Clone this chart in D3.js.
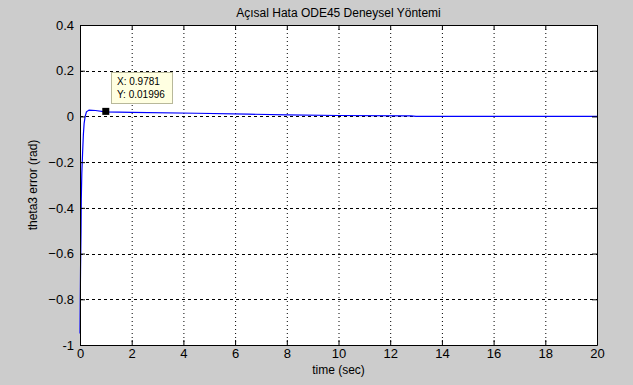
<!DOCTYPE html>
<html><head><meta charset="utf-8">
<script src="https://cdn.jsdelivr.net/npm/d3@7"></script>
<style>body{margin:0;background:#cccccc;}svg{display:block;}</style>
</head><body>
<svg id="c" width="633" height="385"></svg>
<script>
const xTicks = [0,2,4,6,8,10,12,14,16,18,20];
const yTicks = [-1,-0.8,-0.6,-0.4,-0.2,0,0.2,0.4];
const timeValues = [0,0.01,0.02,0.04,0.05,0.07,0.1,0.13,0.16,0.2,0.25,0.35,0.6,0.9781,2,4.5,6.5,8,10,12.8,13,20];
const errorValues = [-0.95,-0.8,-0.68,-0.5,-0.36,-0.25,-0.16,-0.08,-0.03,0.0,0.02,0.028,0.026,0.01996,0.018,0.014,0.01,0.007,0.004,0.002,0.0,0.0];
const tip = {x:0.9781, y:0.01996};

const svg = d3.select("#c");
const L=80, R=597, T=25, B=345;
const x = d3.scaleLinear().domain([0,20]).range([L,R]);
const y = d3.scaleLinear().domain([-1,0.4]).range([B,T]);
const font = "Arial, 'Liberation Sans', sans-serif";

svg.append("rect").attr("x",L).attr("y",T).attr("width",R-L).attr("height",B-T).attr("fill","#fff");

// grid
const g = svg.append("g");
g.selectAll(".gx").data(xTicks.slice(1,-1)).enter().append("line")
 .attr("x1",d=>x(d)+0.5).attr("x2",d=>x(d)+0.5).attr("y1",T).attr("y2",B)
 .attr("stroke","#000").attr("stroke-width",1).attr("stroke-dasharray","1,3");
g.selectAll(".gy").data(yTicks.slice(1,-1)).enter().append("line")
 .attr("y1",d=>Math.round(y(d))+0.5).attr("y2",d=>Math.round(y(d))+0.5).attr("x1",L).attr("x2",R)
 .attr("stroke","#000").attr("stroke-width",1).attr("stroke-dasharray","3,3");

// line
const pts = timeValues.map((t,i)=>[t,errorValues[i]]);
svg.append("path").datum(pts)
 .attr("d", d3.line().x(d=>x(d[0])).y(d=>y(d[1])))
 .attr("fill","none").attr("stroke","#0000ff").attr("stroke-width",1.2);

// axes
const ax = svg.append("g").attr("transform",`translate(0,${B})`)
 .call(d3.axisBottom(x).tickValues(xTicks).tickFormat(d3.format("d")).tickSizeInner(-5).tickSizeOuter(0).tickPadding(4));
const ay = svg.append("g").attr("transform",`translate(${L},0)`)
 .call(d3.axisLeft(y).tickValues(yTicks).tickFormat(d=>d===0?"0":(d===-1?"-1":d3.format(".1f")(d))).tickSizeInner(-5).tickSizeOuter(0).tickPadding(6));
const axT = svg.append("g").attr("transform",`translate(0,${T})`)
 .call(d3.axisTop(x).tickValues(xTicks).tickFormat("").tickSizeInner(-5).tickSizeOuter(0));
const ayR = svg.append("g").attr("transform",`translate(${R},0)`)
 .call(d3.axisRight(y).tickValues(yTicks).tickFormat("").tickSizeInner(-5).tickSizeOuter(0));
[ax,ay,axT,ayR].forEach(a=>{
  a.selectAll("path").attr("stroke","#000");
  a.selectAll("line").attr("stroke","#000");
  a.selectAll("text").attr("font-family",font).attr("font-size","13px").attr("fill","#000");
});

// data tip
svg.append("rect").attr("x",x(tip.x)-3).attr("y",y(tip.y)-4).attr("width",7).attr("height",7).attr("fill","#000");
const bx=111, by=72;
svg.append("rect").attr("x",bx+0.5).attr("y",by+0.5).attr("width",61).attr("height",31)
 .attr("fill","#ffffe1").attr("stroke","#b8b89a");
svg.append("text").attr("x",bx+6).attr("y",by+13).text("X: "+tip.x)
 .attr("font-family",font).attr("font-size","10px");
svg.append("text").attr("x",bx+6).attr("y",by+26).text("Y: "+tip.y)
 .attr("font-family",font).attr("font-size","10px");

// labels
svg.append("text").attr("x",(L+R)/2).attr("y",17).attr("text-anchor","middle")
 .attr("font-family",font).attr("font-size","12px").text("Açısal Hata ODE45 Deneysel Yöntemi");
svg.append("text").attr("x",(L+R)/2).attr("y",374).attr("text-anchor","middle")
 .attr("font-family",font).attr("font-size","12px").text("time (sec)");
svg.append("text").attr("transform",`translate(37,${(T+B)/2}) rotate(-90)`).attr("text-anchor","middle")
 .attr("font-family",font).attr("font-size","12px").text("theta3 error (rad)");
</script>
</body></html>
